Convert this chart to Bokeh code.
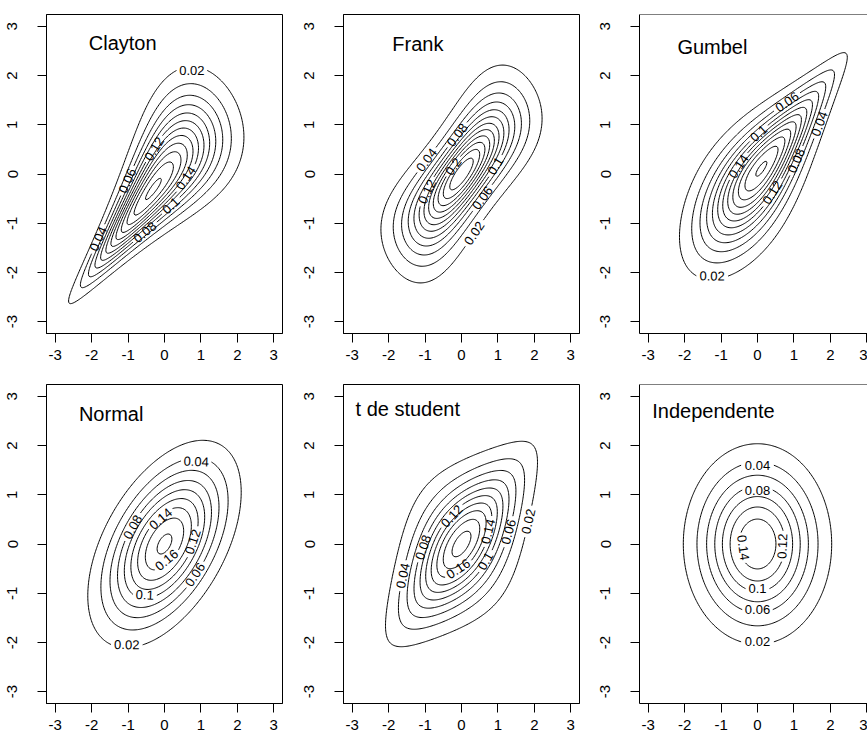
import math
import numpy as np
import contourpy
from bokeh.plotting import figure
from bokeh.layouts import column, row
from bokeh.models import Range1d, FixedTicker, Span
from bokeh.core.properties import value
from bokeh.embed import file_html
from bokeh.resources import INLINE

# ---------------- data ----------------
panel_titles = ["Clayton", "Frank", "Gumbel", "Normal", "t de student", "Independente"]
panel_families = ["clayton", "frank", "gumbel", "normal", "student", "independent"]
clayton_theta = 2.0
frank_theta = 5.74
gumbel_theta = 2.0
normal_rho = 0.5
student_rho = 0.5
student_df = 4
contour_levels = [0.02, 0.04, 0.06, 0.08, 0.10, 0.12, 0.14, 0.16, 0.18, 0.20,
                  0.22, 0.24, 0.26, 0.28, 0.30]
contour_level_labels = ["0.02", "0.04", "0.06", "0.08", "0.1", "0.12", "0.14", "0.16",
                        "0.18", "0.2", "0.22", "0.24", "0.26", "0.28", "0.3"]
axis_ticks = [-3, -2, -1, 0, 1, 2, 3]
axis_tick_labels = ["-3", "-2", "-1", "0", "1", "2", "3"]

# ---------------- layout / style ----------------
FONT = "Liberation Sans"
AX_LO, AX_HI = -3.24, 3.24
FRAME_W, FRAME_H = 236, 319
LAST_FRAME_W = 228
SX = FRAME_W / (AX_HI - AX_LO)
SY = FRAME_H / (AX_HI - AX_LO)
title_anchor_x = [-2.08, -1.90, -2.20, -2.35, -2.91, -2.89]
title_anchor_y = [2.67, 2.64, 2.58, 2.64, 2.75, 2.70]
LABEL_FS = 13

grid = np.linspace(-3.3, 3.3, 221)
phi = np.exp(-grid ** 2 / 2) / math.sqrt(2 * math.pi)
Phi = np.array([0.5 * math.erfc(-t / math.sqrt(2)) for t in grid])
U, V = np.meshgrid(Phi, Phi)
X, Y = np.meshgrid(grid, grid)
FX = phi[None, :] * phi[:, None]


def clayton_density(th):
    c = (1 + th) * (U * V) ** (-th - 1) * (U ** (-th) + V ** (-th) - 1) ** (-2 - 1 / th)
    return c * FX


def frank_density(th):
    a = 1 - math.exp(-th)
    num = th * a * np.exp(-th * (U + V))
    den = (a - (1 - np.exp(-th * U)) * (1 - np.exp(-th * V))) ** 2
    return num / den * FX


def gumbel_density(th):
    x = -np.log(U)
    y = -np.log(V)
    A = x ** th + y ** th
    At = A ** (1 / th)
    C = np.exp(-At)
    c = C / (U * V) * (x * y) ** (th - 1) * A ** (1 / th - 2) * (At + th - 1)
    return c * FX


def normal_density(rho):
    q = (X ** 2 - 2 * rho * X * Y + Y ** 2) / (1 - rho ** 2)
    return np.exp(-q / 2) / (2 * math.pi * math.sqrt(1 - rho ** 2))


def student_density(rho, nu):
    tg = np.linspace(0, 80, 160001)
    k1 = math.gamma((nu + 1) / 2) / (math.sqrt(nu * math.pi) * math.gamma(nu / 2))
    pdf = k1 * (1 + tg ** 2 / nu) ** (-(nu + 1) / 2)
    F = 0.5 + np.concatenate([[0.0], np.cumsum((pdf[1:] + pdf[:-1]) / 2 * np.diff(tg))])
    pabs = np.array([0.5 * math.erfc(-abs(t) / math.sqrt(2)) for t in grid])
    q = np.sign(grid) * np.interp(pabs, F, tg)
    QX, QY = np.meshgrid(q, q)
    k2 = math.gamma((nu + 2) / 2) / (math.gamma(nu / 2) * nu * math.pi * math.sqrt(1 - rho ** 2))
    t2 = k2 * (1 + (QX ** 2 - 2 * rho * QX * QY + QY ** 2) / (nu * (1 - rho ** 2))) ** (-(nu + 2) / 2)
    t1x = k1 * (1 + QX ** 2 / nu) ** (-(nu + 1) / 2)
    t1y = k1 * (1 + QY ** 2 / nu) ** (-(nu + 1) / 2)
    return t2 / (t1x * t1y) * FX


def density(family):
    if family == "clayton":
        return clayton_density(clayton_theta)
    if family == "frank":
        return frank_density(frank_theta)
    if family == "gumbel":
        return gumbel_density(gumbel_theta)
    if family == "normal":
        return normal_density(normal_rho)
    if family == "student":
        return student_density(student_rho, student_df)
    return FX.copy()


def text_width(s, fs):
    return fs * sum(0.278 if ch == "." else 0.556 for ch in s)


def eval_candidate(P, k, closed, gap, L):
    n = len(P)
    if closed:
        R = np.roll(P, -k, axis=0)
        Q = np.vstack([R, R[:1]])
        s = np.concatenate([[0.0], np.cumsum(np.hypot(np.diff(Q[:, 0]), np.diff(Q[:, 1])))])
        b = int(np.searchsorted(s, gap / 2))
        a = int(np.searchsorted(s, L - gap / 2)) - 1
        if b >= a - 2:
            return None
        pa, pb = Q[a], Q[b]
        win = np.vstack([Q[a:], Q[1:b + 1]])
        kept = [Q[b:a + 1]]
    else:
        s = np.concatenate([[0.0], np.cumsum(np.hypot(np.diff(P[:, 0]), np.diff(P[:, 1])))])
        sk = s[k]
        if sk - gap / 2 < 0 or sk + gap / 2 > L:
            return None
        a = int(np.searchsorted(s, sk - gap / 2))
        b = min(int(np.searchsorted(s, sk + gap / 2)), n - 1)
        pa, pb = P[a], P[b]
        win = P[a:b + 1]
        kept = [P[:a + 1], P[b:]]
    d = pb - pa
    dl = math.hypot(d[0], d[1])
    if dl < 1e-9:
        return None
    dev = np.abs((win[:, 0] - pa[0]) * d[1] - (win[:, 1] - pa[1]) * d[0]) / dl
    ang = math.atan2(d[1], d[0])
    if ang > math.pi / 2:
        ang -= math.pi
    if ang <= -math.pi / 2:
        ang += math.pi
    c = (pa + pb) / 2
    return float(dev.max()), c, ang, kept


def contour_geometry(Z, x_hi):
    gen = contourpy.contour_generator(x=grid, y=grid, z=Z)
    seg_x, seg_y = [], []
    lx, ly, lt, la = [], [], [], []
    boxes = []
    fx0, fx1 = AX_LO * SX, x_hi * SX
    fy0, fy1 = AX_LO * SY, AX_HI * SY
    for i, (lev, lab) in enumerate(zip(contour_levels, contour_level_labels)):
        paths = gen.lines(lev)
        if len(paths) == 0:
            continue
        paths = sorted(paths, key=len, reverse=True)
        for j, path in enumerate(paths):
            closed = np.allclose(path[0], path[-1])
            pts = path[:-1] if closed else path
            P = np.column_stack([pts[:, 0] * SX, pts[:, 1] * SY])
            done = False
            if j == 0 and len(P) > 8:
                w = text_width(lab, LABEL_FS)
                h = LABEL_FS * 0.8
                gap = w + 6
                segl = np.hypot(np.diff(P[:, 0]), np.diff(P[:, 1])).sum()
                L = segl + (math.hypot(*(P[0] - P[-1])) if closed else 0.0)
                if L > 3 * gap:
                    bottom, top = int(np.argmin(P[:, 1])), int(np.argmax(P[:, 1]))
                    pref = [bottom, top] if i % 2 == 0 else [top, bottom]
                    others = list(range(0, len(P), max(1, len(P) // 60)))
                    evals = []
                    for k in pref:
                        r = eval_candidate(P, k, closed, gap, L)
                        if r is not None:
                            evals.append(r)
                    rest = []
                    for k in others:
                        r = eval_candidate(P, k, closed, gap, L)
                        if r is not None:
                            rest.append(r)
                    ordered = evals + sorted(rest, key=lambda r: r[0])
                    for dev, c, ang, kept in ordered:
                        if dev > 4.0:
                            continue
                        hx = abs(math.cos(ang)) * (w / 2 + 2) + abs(math.sin(ang)) * (h / 2 + 1)
                        hy = abs(math.sin(ang)) * (w / 2 + 2) + abs(math.cos(ang)) * (h / 2 + 1)
                        box = (c[0] - hx, c[0] + hx, c[1] - hy, c[1] + hy)
                        if box[0] < fx0 + 2 or box[1] > fx1 - 2 or box[2] < fy0 + 2 or box[3] > fy1 - 2:
                            continue
                        if any(not (box[1] < o[0] or box[0] > o[1] or box[3] < o[2] or box[2] > o[3]) for o in boxes):
                            continue
                        boxes.append(box)
                        for piece in kept:
                            if len(piece) >= 2:
                                seg_x.append((piece[:, 0] / SX).tolist())
                                seg_y.append((piece[:, 1] / SY).tolist())
                        lx.append(c[0] / SX)
                        ly.append(c[1] / SY)
                        lt.append(lab)
                        la.append(ang)
                        done = True
                        break
            if not done:
                seg_x.append(path[:, 0].tolist())
                seg_y.append(path[:, 1].tolist())
    return seg_x, seg_y, lx, ly, lt, la


def make_panel(idx):
    col = idx % 3
    rw = idx // 3
    last = col == 2
    fw = LAST_FRAME_W if last else FRAME_W
    x_hi = AX_LO + fw / SX
    p = figure(frame_width=fw, frame_height=FRAME_H,
               x_range=Range1d(AX_LO, x_hi), y_range=Range1d(AX_LO, AX_HI),
               output_backend="svg", toolbar_location=None, title=None,
               min_border_left=46, min_border_right=(0 if last else (15 if col == 0 else 14)),
               min_border_top=14, min_border_bottom=(37 if rw == 0 else 36))
    p.background_fill_color = "white"
    p.border_fill_color = "white"
    p.xgrid.visible = False
    p.ygrid.visible = False
    if last:
        p.outline_line_color = None
        p.add_layout(Span(location=AX_HI, dimension="width", line_color="black", line_width=1))
    else:
        p.outline_line_color = "black"
        p.outline_line_alpha = 1.0
    for ax in (p.xaxis[0], p.yaxis[0]):
        ax.ticker = FixedTicker(ticks=axis_ticks)
        ax.major_label_overrides = {t: l for t, l in zip(axis_ticks, axis_tick_labels)}
        ax.major_tick_out = 9
        ax.major_tick_in = 0
        ax.minor_tick_out = 0
        ax.minor_tick_in = 0
        ax.axis_line_color = "black"
        ax.major_tick_line_color = "black"
        ax.major_label_text_color = "black"
        ax.major_label_text_font = FONT
        ax.major_label_text_font_size = "15px"
    p.xaxis[0].major_label_standoff = 7
    p.yaxis[0].major_label_standoff = 20
    p.yaxis[0].major_label_orientation = "vertical"

    Z = density(panel_families[idx])
    sx_, sy_, lx, ly, lt, la = contour_geometry(Z, x_hi)
    p.multi_line(xs=sx_, ys=sy_, line_color="black", line_width=1)
    p.text(x=lx, y=ly, text=lt, angle=la, text_font=value(FONT), text_font_size=f"{LABEL_FS}px",
           text_align="center", text_baseline="middle", text_color="black")
    p.text(x=[title_anchor_x[idx]], y=[title_anchor_y[idx]], text=[panel_titles[idx]],
           text_font=value(FONT), text_font_size="20px", text_align="left",
           text_baseline="alphabetic", text_color="black")
    return p


panels = [make_panel(i) for i in range(6)]
layout = column(row(*panels[:3]), row(*panels[3:]))
open("out.html", "w").write(file_html(layout, INLINE))
